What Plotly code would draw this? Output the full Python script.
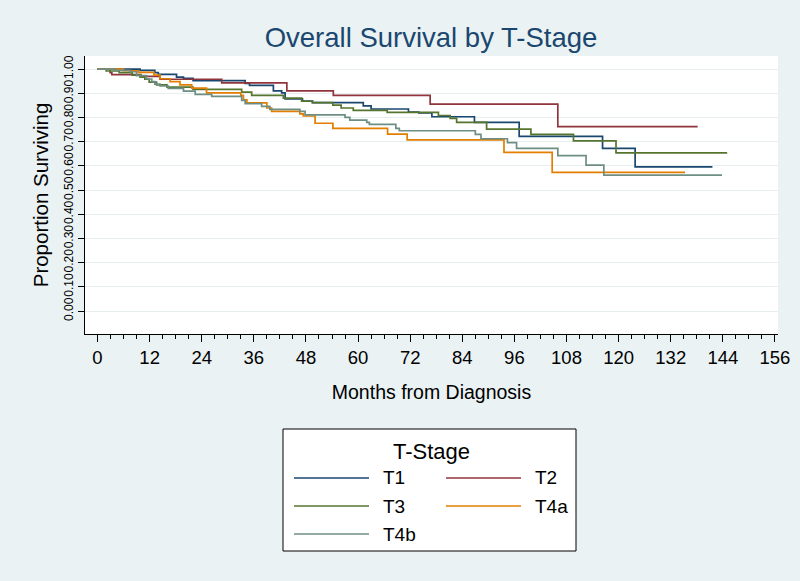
import plotly.graph_objects as go

# ---- data ----
series_names = ["T1", "T2", "T3", "T4a", "T4b"]
series_colors = ["#1A476F", "#90353B", "#55752F", "#E37E00", "#6E8E84"]

t1_months = [0, 9.8, 13.2, 14.0, 18.2, 19.8, 22, 34, 35, 40.5, 42.4, 43.2, 47.2, 49.5, 61.2, 63, 71.6, 74, 77, 86.8, 97.1, 116.3, 123.8, 141.6]
t1_surv = [1.0, 0.995, 0.985, 0.978, 0.967, 0.962, 0.952, 0.941, 0.933, 0.91, 0.902, 0.877, 0.868, 0.861, 0.848, 0.835, 0.822, 0.819, 0.803, 0.78, 0.722, 0.672, 0.596, 0.596]

t2_months = [0, 2.9, 3.3, 10, 14.4, 28.6, 43.6, 54.3, 76.6, 106, 138.2]
t2_surv = [1.0, 0.985, 0.977, 0.97, 0.958, 0.943, 0.91, 0.891, 0.855, 0.762, 0.762]

t3_months = [0, 2, 5, 8, 9.8, 10.9, 11.9, 13.6, 16, 22, 33.2, 35.5, 42.8, 47, 49.5, 54.2, 56.1, 58.9, 66.7, 78.5, 81.2, 82.7, 89.6, 99.8, 109.6, 119.4, 145]
t3_surv = [1.0, 0.992, 0.985, 0.975, 0.967, 0.958, 0.946, 0.935, 0.925, 0.916, 0.905, 0.891, 0.88, 0.867, 0.861, 0.851, 0.839, 0.829, 0.821, 0.808, 0.796, 0.78, 0.752, 0.73, 0.703, 0.654, 0.654]

t4a_months = [0, 6, 9.4, 13, 14.4, 16.7, 19, 21.7, 25.1, 33, 33.6, 34.4, 39, 40.1, 46.6, 47.4, 50.1, 54.2, 66.8, 71.3, 93.6, 104.7, 135.3]
t4a_surv = [1.0, 0.993, 0.986, 0.975, 0.96, 0.948, 0.935, 0.921, 0.902, 0.891, 0.873, 0.86, 0.839, 0.825, 0.815, 0.806, 0.776, 0.755, 0.731, 0.707, 0.656, 0.573, 0.573]

t4b_months = [0, 4, 7.5, 9, 11.3, 12.5, 13.2, 14.4, 16.3, 19.8, 22.5, 26.3, 33.2, 34, 37.8, 39.7, 46.6, 47.8, 57, 58.1, 62, 62.6, 68.7, 69.5, 87, 88.3, 94.4, 96.5, 106, 112.5, 116.6, 143.8]
t4b_surv = [1.0, 0.995, 0.989, 0.973, 0.959, 0.948, 0.938, 0.93, 0.92, 0.909, 0.895, 0.887, 0.871, 0.857, 0.846, 0.833, 0.825, 0.811, 0.80, 0.789, 0.78, 0.771, 0.755, 0.745, 0.73, 0.712, 0.696, 0.672, 0.642, 0.603, 0.562, 0.562]

x_ticks = [0, 12, 24, 36, 48, 60, 72, 84, 96, 108, 120, 132, 144, 156]
y_ticks = [0.0, 0.1, 0.2, 0.3, 0.4, 0.5, 0.6, 0.7, 0.8, 0.9, 1.0]

months_list = [t1_months, t2_months, t3_months, t4a_months, t4b_months]
surv_list = [t1_surv, t2_surv, t3_surv, t4a_surv, t4b_surv]

# ---- layout geometry (pixels) ----
W, H = 800, 581
L, R, T, B = 85, 22, 56, 247
PW, PH = W - L - R, H - T - B

def px_x(px):
    return (px - L) / PW

def px_y(py):
    return (H - B - py) / PH

fig = go.Figure()
for name, color, xs, ys in zip(series_names, series_colors, months_list, surv_list):
    fig.add_trace(go.Scatter(x=xs, y=ys, mode="lines", name=name,
                             line=dict(color=color, width=1.7, shape="hv"),
                             showlegend=False))

font_family = "Liberation Sans, Arial, sans-serif"

fig.update_layout(
    width=W, height=H,
    margin=dict(l=L, r=R, t=T, b=B, autoexpand=False),
    paper_bgcolor="#EAF2F3",
    plot_bgcolor="white",
    font=dict(family=font_family, color="black"),
    title=dict(text="Overall Survival by T-Stage", x=px_x(431), xref="paper",
               xanchor="center", y=1 - 37 / H, yanchor="middle",
               font=dict(size=27.5, color="#1A476F")),
    xaxis=dict(range=[-2.88, 156.7], tickvals=x_ticks, ticks="outside", ticklen=7,
               tickcolor="black", showline=True, linecolor="black", linewidth=1,
               showgrid=False, zeroline=False, tickfont=dict(size=18.5), automargin=False,
               minor=dict(dtick=3, tick0=0, ticks="outside", ticklen=4, tickcolor="black", showgrid=False),
               title=dict(text="Months from Diagnosis", font=dict(size=19.5), standoff=18)),
    yaxis=dict(range=[-0.095, 1.054], tickvals=y_ticks, tickformat=".2f", tickangle=-90,
               ticks="outside", ticklen=6, tickcolor="black", showline=True, automargin=False,
               linecolor="black", linewidth=1, showgrid=True, gridcolor="#E6EEF0",
               gridwidth=1.2, zeroline=False, tickfont=dict(size=12),
               title=dict(text="Proportion Surviving", font=dict(size=20.5), standoff=8)),
)

# ---- legend box drawn in paper coordinates ----
shapes = [dict(type="rect", xref="paper", yref="paper",
               x0=px_x(283), x1=px_x(576), y0=px_y(551), y1=px_y(429),
               line=dict(color="black", width=1), fillcolor="white", layer="above")]
annotations = [dict(text="T-Stage", xref="paper", yref="paper", x=px_x(431), y=px_y(451),
                    xanchor="center", yanchor="middle", showarrow=False,
                    font=dict(size=22, color="black"))]
col_x = [294, 446]
row_y = [478, 506, 534]
for i, (name, color) in enumerate(zip(series_names, series_colors)):
    cx = col_x[i % 2]
    ry = row_y[i // 2]
    shapes.append(dict(type="line", xref="paper", yref="paper",
                       x0=px_x(cx), x1=px_x(cx + 75), y0=px_y(ry), y1=px_y(ry),
                       line=dict(color=color, width=1.7)))
    annotations.append(dict(text=name, xref="paper", yref="paper", x=px_x(cx + 87), y=px_y(ry),
                            xanchor="left", yanchor="middle", showarrow=False,
                            font=dict(size=19, color="black")))
fig.update_layout(shapes=shapes, annotations=annotations)

fig.write_html("out.html", config={"displayModeBar": False},
               post_script="document.body.style.margin='0';document.body.style.overflow='hidden';")
